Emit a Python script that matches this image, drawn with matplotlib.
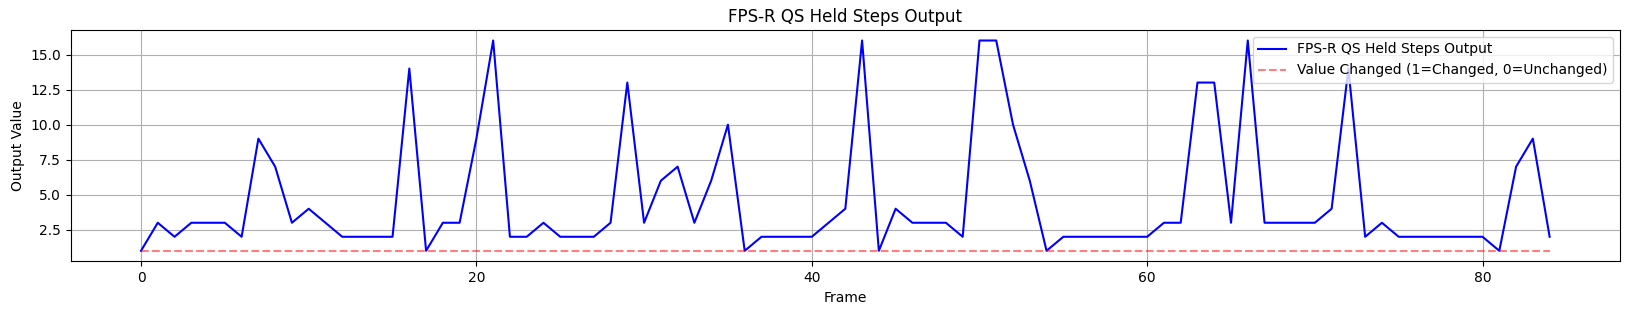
import matplotlib
matplotlib.use("Agg")
import matplotlib.pyplot as plt
import numpy as np

frames = list(range(85))
output = [1, 3, 2, 3, 3, 3, 2, 9, 7, 3, 4, 3, 2, 2, 2, 2, 14, 1, 3, 3,
          9, 16, 2, 2, 3, 2, 2, 2, 3, 13, 3, 6, 7, 3, 6, 10, 1, 2, 2, 2,
          2, 3, 4, 16, 1, 4, 3, 3, 3, 2, 16, 16, 10, 6, 1, 2, 2, 2, 2, 2,
          2, 3, 3, 13, 13, 3, 16, 3, 3, 3, 3, 4, 14, 2, 3, 2, 2, 2, 2, 2,
          2, 1, 7, 9, 2]
changed = [1] * 85

fig, ax = plt.subplots(figsize=(16.3, 3.14), dpi=100)
ax.plot(frames, output, color='blue', label='FPS-R QS Held Steps Output')
ax.plot(frames, changed, color='red', linestyle='--', alpha=0.5,
        label='Value Changed (1=Changed, 0=Unchanged)')
ax.set_title('FPS-R QS Held Steps Output')
ax.set_xlabel('Frame')
ax.set_ylabel('Output Value')
ax.grid(True)
ax.legend(loc='upper right')
fig.subplots_adjust(left=0.0433, right=0.9939, top=0.9045, bottom=0.1678)
fig.savefig('out.png')
